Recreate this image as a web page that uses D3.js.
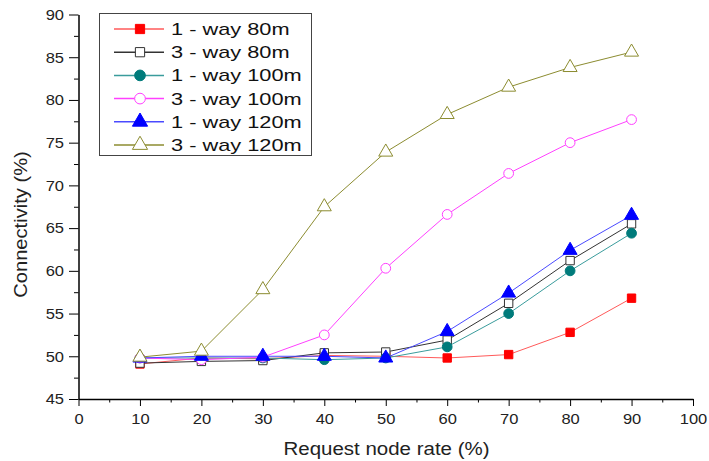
<!DOCTYPE html>
<html>
<head>
<meta charset="UTF-8">
<style>
  body { margin: 0; background: #fff; }
  svg { display: block; font-family: Arial, "Liberation Sans", sans-serif; }
  .tick text { font-size: 15px; fill: #222; }
  .lbl { font-size: 17.5px; fill: #222; }
  .leg { font-size: 17px; fill: #111; }
</style>
</head>
<body>
<svg id="chart" width="709" height="461"></svg>
<script src="https://d3js.org/d3.v7.min.js"></script>
<script>
// request node rate (%)
const RATES = [10, 20, 30, 40, 50, 60, 70, 80, 90];
// connectivity (%) per series
const WAY1_80  = [49.1, 49.8, 49.7, 50.1, 50.0, 49.8, 50.2, 52.8, 56.8];
const WAY3_80  = [49.2, 49.4, 49.5, 50.4, 50.5, 51.9, 56.2, 61.2, 65.5];
const WAY1_100 = [49.8, 49.8, 49.8, 49.6, 49.8, 51.1, 55.0, 60.0, 64.4];
const WAY3_100 = [49.8, 49.6, 49.9, 52.5, 60.3, 66.6, 71.4, 75.0, 77.7];
const WAY1_120 = [49.8, 50.0, 50.0, 50.0, 49.8, 52.9, 57.4, 62.4, 66.5];
const WAY3_120 = [49.9, 50.6, 57.8, 67.5, 73.9, 78.3, 81.5, 83.8, 85.6];
const NAMES = ["1 - way 80m", "3 - way 80m", "1 - way 100m", "3 - way 100m", "1 - way 120m", "3 - way 120m"];
const X_TICKS = [0, 10, 20, 30, 40, 50, 60, 70, 80, 90, 100];
const Y_TICKS = [45, 50, 55, 60, 65, 70, 75, 80, 85, 90];

// style per series: line colour, marker colour, shape, filled?
const STYLE = [
  {line: "#ff5a5a", mark: "#ff0000", shape: d3.symbolSquare,   fill: true,  size: 70},
  {line: "#333333", mark: "#333333", shape: d3.symbolSquare,   fill: false, size: 70},
  {line: "#3a9c9c", mark: "#007b7b", shape: d3.symbolCircle,   fill: true,  size: 75},
  {line: "#ff40ff", mark: "#ff40ff", shape: d3.symbolCircle,   fill: false, size: 75},
  {line: "#4a4aff", mark: "#0000ff", shape: d3.symbolTriangle, fill: true,  size: 85},
  {line: "#8c8c30", mark: "#8c8c30", shape: d3.symbolTriangle, fill: false, size: 85}
];
const SERIES = [WAY1_80, WAY3_80, WAY1_100, WAY3_100, WAY1_120, WAY3_120];

// the original picture is a bit wide: stretch text horizontally
function stretch(sel, f) {
  sel.each(function() {
    const w = this.getComputedTextLength();
    d3.select(this).attr("textLength", w * f).attr("lengthAdjust", "spacingAndGlyphs");
  });
}

const svg = d3.select("#chart");
const m = {l: 78.5, r: 16, t: 14.5, b: 62};
const W = 709, H = 461;
const x = d3.scaleLinear().domain([0, 100]).range([m.l, W - m.r]);
const y = d3.scaleLinear().domain([45, 90]).range([H - m.b, m.t]);

// minor ticks
svg.append("g").attr("transform", `translate(0,${H - m.b})`)
  .call(d3.axisBottom(x).tickValues(d3.range(5, 100, 10)).tickSize(3.5).tickFormat(""))
  .call(g => g.select(".domain").remove());
svg.append("g").attr("transform", `translate(${m.l},0)`)
  .call(d3.axisLeft(y).tickValues(d3.range(47.5, 90, 5)).tickSize(4.5).tickFormat(""))
  .call(g => g.select(".domain").remove());

// major axes
const gx = svg.append("g").attr("transform", `translate(0,${H - m.b})`)
  .call(d3.axisBottom(x).tickValues(X_TICKS).tickSize(7).tickSizeOuter(0).tickPadding(7))
  .call(g => g.select(".domain").attr("stroke-width", 1.5));
const gy = svg.append("g").attr("transform", `translate(${m.l},0)`)
  .call(d3.axisLeft(y).tickValues(Y_TICKS).tickSize(9.5).tickSizeOuter(0).tickPadding(5))
  .call(g => g.select(".domain").attr("stroke-width", 1.5));
stretch(gx.selectAll(".tick text"), 1.1);
stretch(gy.selectAll(".tick text"), 1.1);

const xt = svg.append("text").attr("class", "lbl").attr("text-anchor", "middle")
  .attr("x", 386.5).attr("y", 455)
  .text("Request node rate (%)");
const yt = svg.append("text").attr("class", "lbl").attr("text-anchor", "middle")
  .attr("transform", "translate(27,224.5) rotate(-90)")
  .text("Connectivity (%)");
stretch(xt, 1.17);
stretch(yt, 1.15);

const line = d3.line().x((d, i) => x(RATES[i])).y(d => y(d));

SERIES.forEach((vals, k) => {
  const s = STYLE[k];
  svg.append("path").attr("d", line(vals))
    .attr("fill", "none").attr("stroke", s.line).attr("stroke-width", 1);
  svg.selectAll(null).data(vals).enter().append("path")
    .attr("transform", (d, i) => `translate(${x(RATES[i])},${y(d)})`)
    .attr("d", d3.symbol().type(s.shape).size(s.size))
    .attr("fill", s.fill ? s.mark : "#fff")
    .attr("stroke", s.mark).attr("stroke-width", 1);
});

// legend
const lg = svg.append("g");
lg.append("rect").attr("x", 99.5).attr("y", 13.5).attr("width", 212).attr("height", 142)
  .attr("fill", "#fff").attr("stroke", "#444").attr("stroke-width", 1);
NAMES.forEach((n, k) => {
  const s = STYLE[k], yy = 29 + k * 23.2;
  lg.append("line").attr("x1", 114).attr("x2", 164).attr("y1", yy).attr("y2", yy)
    .attr("stroke", s.line).attr("stroke-width", 1.5);
  lg.append("path").attr("transform", `translate(140,${yy})`)
    .attr("d", d3.symbol().type(s.shape).size(s.size + 15))
    .attr("fill", s.fill ? s.mark : "#fff").attr("stroke", s.mark);
  const t = lg.append("text").attr("class", "leg").attr("x", 171).attr("y", yy + 6).text(n);
  stretch(t, 1.28);
});
</script>
</body>
</html>
